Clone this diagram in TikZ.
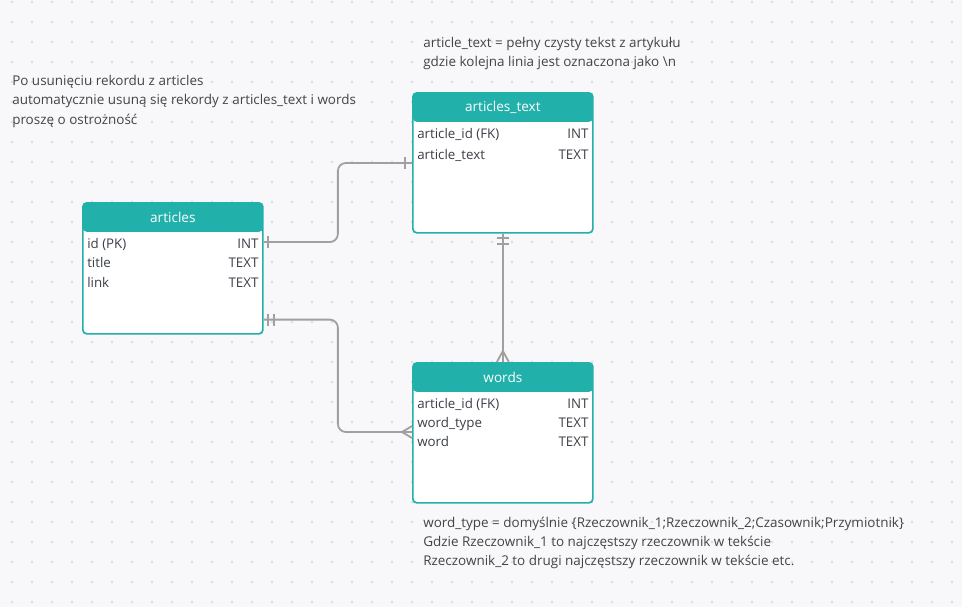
\documentclass[tikz,border=0pt]{standalone}
\usepackage{fontspec}
\setmainfont{Open Sans}
\usetikzlibrary{calc}
\definecolor{erteal}{HTML}{22B0AB}
\definecolor{erline}{HTML}{A0A0A0}
\definecolor{erbg}{HTML}{F8F8FA}
\definecolor{erdot}{HTML}{DCDCE1}
\definecolor{errow}{HTML}{3B3F47}
\definecolor{ernote}{HTML}{444444}

\begin{document}
\begin{tikzpicture}[x=0.75pt,y=-0.75pt,
  tablebox/.style={rectangle,draw=erteal,fill=white,line width=1.3pt,rounded corners=3pt,
    inner sep=0pt,anchor=north west,minimum width=135pt,minimum height=#1,
    path picture={\fill[erteal] (path picture bounding box.north west) rectangle
      ([yshift=-21.75pt]path picture bounding box.north east);}},
  hdrtext/.style={text=white,font=\fontsize{10.2pt}{12pt}\selectfont,inner sep=0pt},
  rowtext/.style={text=errow,font=\fontsize{10pt}{12pt}\selectfont,inner sep=0pt,
    text height=1.5ex,text depth=.25ex},
  notetext/.style={text=ernote,font=\fontsize{10.1pt}{14.5pt}\selectfont,inner sep=0pt,
    align=left,anchor=north west},
  conn/.style={draw=erline,line width=1.35pt}]
  % background and dot grid
  \fill[erbg] (0,0) rectangle (962,607);
  \foreach \gx in {12,32,...,952}{
    \foreach \gy in {2,22,...,602}{
      \fill[erdot] (\gx,\gy) circle (1pt);
    }
  }
  % tables
  \node[tablebox=98.25pt] (articles) at (82,202) {};
  \node[tablebox=105pt] (articlesText) at (412,92) {};
  \node[tablebox=105pt] (words) at (412,362) {};
  \node[hdrtext] (articlesHdr) at ($(articles.north)+(0,15)$) {articles};
  \node[hdrtext] (articlesTextHdr) at ($(articlesText.north)+(0,15)$) {articles\_text};
  \node[hdrtext] (wordsHdr) at ($(words.north)+(0,15)$) {words};
  \foreach \i/\dy/\col/\typ in {1/42.5/{id (PK)}/INT, 2/61.5/title/TEXT, 3/81.5/link/TEXT}{
    \node[rowtext,anchor=west] (articlesCol\i) at ($(articles.north west)+(5,\dy)$) {\col};
    \node[rowtext,anchor=east] (articlesTyp\i) at ($(articles.north east)+(-5,\dy)$) {\typ};
  }
  \foreach \i/\dy/\col/\typ in {1/42.5/{article\_id (FK)}/INT, 2/63.5/article\_text/TEXT}{
    \node[rowtext,anchor=west] (articlesTextCol\i) at ($(articlesText.north west)+(5,\dy)$) {\col};
    \node[rowtext,anchor=east] (articlesTextTyp\i) at ($(articlesText.north east)+(-5,\dy)$) {\typ};
  }
  \foreach \i/\dy/\col/\typ in {1/42.5/{article\_id (FK)}/INT, 2/61.5/word\_type/TEXT, 3/80.5/word/TEXT}{
    \node[rowtext,anchor=west] (wordsCol\i) at ($(words.north west)+(5,\dy)$) {\col};
    \node[rowtext,anchor=east] (wordsTyp\i) at ($(words.north east)+(-5,\dy)$) {\typ};
  }
  % relations
  \coordinate (a1) at ($(articles.north east)+(0,40)$);
  \coordinate (t1) at ($(articlesText.north west)+(0,71)$);
  \coordinate (a2) at ($(articles.north east)+(0,117.6)$);
  \coordinate (w1) at ($(words.north west)+(0,70)$);
  \coordinate (t2) at (articlesText.south);
  \coordinate (w2) at (words.north);
  \draw[conn,rounded corners=6pt] (a1) -| ($(a1)!0.5!(t1)$) |- (t1);
  \draw[conn,rounded corners=6pt] (a2) -| ($(a2)!0.5!(w1)$) |- (w1);
  \draw[conn] (t2) -- (w2);
  % one
  \draw[conn] ($(a1)+(4.5,-6)$) -- ($(a1)+(4.5,6)$);
  \draw[conn] ($(t1)+(-7,-6)$) -- ($(t1)+(-7,6)$);
  % one and only one
  \foreach \d in {4.5,10}{
    \draw[conn] ($(a2)+(\d,-6)$) -- ($(a2)+(\d,6)$);
    \draw[conn] ($(t2)+(-6,\d)$) -- ($(t2)+(6,\d)$);
  }
  % many
  \foreach \s in {-6,0,6}{
    \draw[conn] ($(w1)+(-10,0)$) -- ($(w1)+(0,\s)$);
    \draw[conn] ($(w2)+(0,-11)$) -- ($(w2)+(\s,0)$);
  }
  % notes
  \node[notetext] (noteText) at (423,37) {article\_text = pełny czysty tekst z artykułu\\
    gdzie kolejna linia jest oznaczona jako \textbackslash n};
  \node[notetext] (noteDelete) at (12,75) {Po usunięciu rekordu z articles\\
    automatycznie usuną się rekordy z articles\_text i words\\
    proszę o ostrożność};
  \node[notetext] (noteWords) at (423,516.5) {word\_type = domyślnie \{Rzeczownik\_1;Rzeczownik\_2;Czasownik;Przymiotnik\}\\
    Gdzie Rzeczownik\_1 to najczęstszy rzeczownik w tekście\\
    Rzeczownik\_2 to drugi najczęstszy rzeczownik w tekście etc.};
\end{tikzpicture}
\end{document}
